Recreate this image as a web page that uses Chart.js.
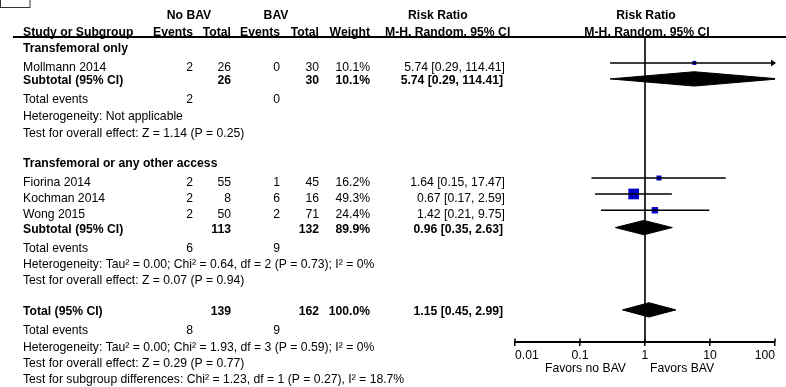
<!DOCTYPE html>
<html>
<head>
<meta charset="utf-8">
<script src="https://cdn.jsdelivr.net/npm/chart.js@4/dist/chart.umd.min.js"></script>
<style>
  html, body { margin: 0; padding: 0; background: #fff; }
  canvas { display: block; }
</style>
</head>
<body>
<canvas id="c" width="786" height="387"></canvas>
<script>
// ---------- DATA ----------
const studyNames   = ['Mollmann 2014', 'Fiorina 2014', 'Kochman 2014', 'Wong 2015'];
const noBavEvents  = [2, 2, 2, 2];
const noBavTotal   = [26, 55, 8, 50];
const bavEvents    = [0, 1, 6, 2];
const bavTotal     = [30, 45, 16, 71];
const studyWeight  = [10.1, 16.2, 49.3, 24.4];
const studyRR      = [5.74, 1.64, 0.67, 1.42];
const studyLow     = [0.29, 0.15, 0.17, 0.21];
const studyHigh    = [114.41, 17.47, 2.59, 9.75];
const studyRRText  = ['5.74 [0.29, 114.41]', '1.64 [0.15, 17.47]', '0.67 [0.17, 2.59]', '1.42 [0.21, 9.75]'];

const groupNames       = ['Transfemoral only', 'Transfemoral or any other access'];
const groupNoBavTotal  = [26, 113];
const groupBavTotal    = [30, 132];
const groupNoBavEvents = [2, 6];
const groupBavEvents   = [0, 9];
const groupWeight      = [10.1, 89.9];
const groupRR          = [5.74, 0.96];
const groupLow         = [0.29, 0.35];
const groupHigh        = [114.41, 2.63];
const groupRRText      = ['5.74 [0.29, 114.41]', '0.96 [0.35, 2.63]'];
const groupHet         = ['Heterogeneity: Not applicable',
                          'Heterogeneity: Tau\u00B2 = 0.00; Chi\u00B2 = 0.64, df = 2 (P = 0.73); I\u00B2 = 0%'];
const groupTest        = ['Test for overall effect: Z = 1.14 (P = 0.25)',
                          'Test for overall effect: Z = 0.07 (P = 0.94)'];

const totalNoBav   = 139;
const totalBav     = 162;
const totalWeight  = 100.0;
const totalEventsNoBav = 8;
const totalEventsBav   = 9;
const totalRR      = 1.15;
const totalLow     = 0.45;
const totalHigh    = 2.99;
const totalRRText  = '1.15 [0.45, 2.99]';
const totalHet     = 'Heterogeneity: Tau\u00B2 = 0.00; Chi\u00B2 = 1.93, df = 3 (P = 0.59); I\u00B2 = 0%';
const totalTest    = 'Test for overall effect: Z = 0.29 (P = 0.77)';
const subgroupTest = 'Test for subgroup differences: Chi\u00B2 = 1.23, df = 1 (P = 0.27), I\u00B2 = 18.7%';

const tickValues = [0.01, 0.1, 1, 10, 100];
const tickLabels = ['0.01', '0.1', '1', '10', '100'];
const favorLeft  = 'Favors no BAV';
const favorRight = 'Favors BAV';

// ---------- LAYOUT (row slots, in row units) ----------
const Y_MAX = 18.71;
const ROW = {
  head1: -1.35, head2: -0.33,
  groupTitle: [0.66, 7.71],
  study: [1.82, 8.88, 9.86, 10.86],
  subtotal: [2.64, 11.76],
  events: [3.79, 12.90],
  het: [4.85, 13.93],
  test: [5.85, 14.91],
  total: 16.81, totEvents: 17.93, totHet: 19.0, totTest: 19.98, subTest: 20.94
};
const TEXT_NUDGE = 1;          // px, text baseline correction
const STUDY_MARK_SHIFT = -0.23;
const DIAMOND_SHIFT = -0.07;
const DIAMOND_H = 0.44;
const FONT = '"Liberation Sans", Arial, Helvetica, sans-serif';
const FSIZE = 12.2;
const BLUE = '#0000cc';

// ---------- DATASETS ----------
const datasets = [];
// null line
datasets.push({ data: [{x: 1, y: 0}, {x: 1, y: Y_MAX}], showLine: true, borderColor: '#000', borderWidth: 1.6, pointRadius: 0 });
// CIs
studyNames.forEach((n, i) => {
  const y = ROW.study[i] + STUDY_MARK_SHIFT;
  datasets.push({ data: [{x: studyLow[i], y}, {x: studyHigh[i], y}], showLine: true, borderColor: '#000', borderWidth: 1.5, pointRadius: 0 });
});
// squares (side grows with weight)
datasets.push({
  data: studyRR.map((v, i) => ({x: v, y: ROW.study[i] + STUDY_MARK_SHIFT})),
  pointStyle: 'rect',
  pointRadius: studyWeight.map(w => (2.27 + 0.171 * w) / Math.SQRT2),
  backgroundColor: BLUE, borderColor: BLUE, borderWidth: 0
});
// diamonds: upper outline + lower outline filled to the upper one
function addDiamond(lo, est, hi, yc) {
  const y = yc + DIAMOND_SHIFT;
  datasets.push({
    data: [{x: lo, y}, {x: est, y: y - DIAMOND_H}, {x: hi, y}],
    showLine: true, borderColor: '#000', borderWidth: 1, pointRadius: 0, fill: false, tension: 0
  });
  datasets.push({
    data: [{x: lo, y}, {x: est, y: y + DIAMOND_H}, {x: hi, y}],
    showLine: true, borderColor: '#000', borderWidth: 1, pointRadius: 0,
    backgroundColor: '#000', fill: '-1', tension: 0
  });
}
groupRR.forEach((v, g) => addDiamond(groupLow[g], v, groupHigh[g], ROW.subtotal[g]));
addDiamond(totalLow, totalRR, totalHigh, ROW.total);

// ---------- TEXT PLUGIN ----------
const tablePlugin = {
  id: 'table',
  afterDraw(chart) {
    const ctx = chart.ctx;
    const ys = chart.scales.y, xs = chart.scales.x;
    const Y = u => ys.getPixelForValue(u) + TEXT_NUDGE;
    function t(s, x, u, align, bold) {
      ctx.font = (bold ? 'bold ' : '') + FSIZE + 'px ' + FONT;
      ctx.textAlign = align || 'left';
      ctx.textBaseline = 'middle';
      ctx.fillStyle = '#000';
      ctx.fillText(String(s), x, Y(u));
    }
    ctx.save();
    // panel box
    ctx.strokeStyle = '#333'; ctx.lineWidth = 1;
    ctx.strokeRect(0.5, -1, 29.5, 8.5);
    // header rule
    ctx.strokeStyle = '#000'; ctx.lineWidth = 2;
    ctx.beginPath(); ctx.moveTo(13, ys.top); ctx.lineTo(786, ys.top); ctx.stroke();

    const L = 23, C1 = 193, C2 = 231, C3 = 280, C4 = 319, C5 = 370, CR = 505, CRB = 503;
    // headers
    t('No BAV', 189, ROW.head1, 'center', true);
    t('BAV', 276, ROW.head1, 'center', true);
    t('Risk Ratio', 408, ROW.head1, 'left', true);
    t('Risk Ratio', 646, ROW.head1, 'center', true);
    t('Study or Subgroup', L, ROW.head2, 'left', true);
    t('Events', C1, ROW.head2, 'right', true);
    t('Total', C2, ROW.head2, 'right', true);
    t('Events', C3, ROW.head2, 'right', true);
    t('Total', C4, ROW.head2, 'right', true);
    t('Weight', C5, ROW.head2, 'right', true);
    t('M-H, Random, 95% CI', 385, ROW.head2, 'left', true);
    t('M-H, Random, 95% CI', 647, ROW.head2, 'center', true);

    groupNames.forEach((g, gi) => {
      t(g, L, ROW.groupTitle[gi], 'left', true);
      t('Subtotal (95% CI)', L, ROW.subtotal[gi], 'left', true);
      t(groupNoBavTotal[gi], C2, ROW.subtotal[gi], 'right', true);
      t(groupBavTotal[gi], C4, ROW.subtotal[gi], 'right', true);
      t(groupWeight[gi].toFixed(1) + '%', C5, ROW.subtotal[gi], 'right', true);
      t(groupRRText[gi], CRB, ROW.subtotal[gi], 'right', true);
      t('Total events', L, ROW.events[gi], 'left', false);
      t(groupNoBavEvents[gi], C1, ROW.events[gi], 'right', false);
      t(groupBavEvents[gi], C3, ROW.events[gi], 'right', false);
      t(groupHet[gi], L, ROW.het[gi], 'left', false);
      t(groupTest[gi], L, ROW.test[gi], 'left', false);
    });
    studyNames.forEach((n, i) => {
      const u = ROW.study[i];
      t(n, L, u, 'left', false);
      t(noBavEvents[i], C1, u, 'right', false);
      t(noBavTotal[i], C2, u, 'right', false);
      t(bavEvents[i], C3, u, 'right', false);
      t(bavTotal[i], C4, u, 'right', false);
      t(studyWeight[i].toFixed(1) + '%', C5, u, 'right', false);
      t(studyRRText[i], CR, u, 'right', false);
    });
    t('Total (95% CI)', L, ROW.total, 'left', true);
    t(totalNoBav, C2, ROW.total, 'right', true);
    t(totalBav, C4, ROW.total, 'right', true);
    t(totalWeight.toFixed(1) + '%', C5, ROW.total, 'right', true);
    t(totalRRText, CRB, ROW.total, 'right', true);
    t('Total events', L, ROW.totEvents, 'left', false);
    t(totalEventsNoBav, C1, ROW.totEvents, 'right', false);
    t(totalEventsBav, C3, ROW.totEvents, 'right', false);
    t(totalHet, L, ROW.totHet, 'left', false);
    t(totalTest, L, ROW.totTest, 'left', false);
    t(subgroupTest, L, ROW.subTest, 'left', false);

    // arrows for CIs beyond the axis
    studyNames.forEach((n, i) => {
      if (studyHigh[i] > xs.max) {
        const y = ys.getPixelForValue(ROW.study[i] + STUDY_MARK_SHIFT), x = xs.right + 1;
        ctx.fillStyle = '#000';
        ctx.beginPath(); ctx.moveTo(x, y); ctx.lineTo(x - 5, y - 3.5); ctx.lineTo(x - 5, y + 3.5); ctx.closePath(); ctx.fill();
      }
    });
    // upward tick halves
    ctx.strokeStyle = '#000'; ctx.lineWidth = 1.5;
    tickValues.forEach(v => {
      const x = xs.getPixelForValue(v);
      ctx.beginPath(); ctx.moveTo(x, ys.bottom); ctx.lineTo(x, ys.bottom - 3.5); ctx.stroke();
    });
    // favors labels
    ctx.font = FSIZE + 'px ' + FONT; ctx.textBaseline = 'middle'; ctx.fillStyle = '#000';
    const x1 = xs.getPixelForValue(1);
    ctx.textAlign = 'right'; ctx.fillText(favorLeft, x1 - 19, 369);
    ctx.textAlign = 'left'; ctx.fillText(favorRight, x1 + 5, 369);
    ctx.restore();
  }
};

new Chart(document.getElementById('c'), {
  type: 'scatter',
  data: { datasets },
  plugins: [tablePlugin],
  options: {
    responsive: false,
    animation: false,
    devicePixelRatio: 1,
    layout: { padding: { left: 515, right: 11, top: 37, bottom: 0 } },
    plugins: { legend: { display: false }, tooltip: { enabled: false } },
    scales: {
      x: {
        type: 'logarithmic', min: 0.01, max: 100, position: 'bottom',
        afterFit: s => { s.height = 45; },
        afterBuildTicks: s => { s.ticks = tickValues.map(v => ({ value: v })); },
        ticks: {
          align: 'inner', autoSkip: false, maxRotation: 0, minRotation: 0, padding: 2,
          color: '#000', font: { family: FONT, size: FSIZE },
          callback: (v, i) => tickLabels[i]
        },
        grid: { drawOnChartArea: false, drawTicks: true, tickLength: 4, color: '#000', lineWidth: 1.5 },
        border: { display: true, color: '#000', width: 2 }
      },
      y: { type: 'linear', min: 0, max: Y_MAX, reverse: true, display: false }
    }
  }
});
</script>
</body>
</html>
